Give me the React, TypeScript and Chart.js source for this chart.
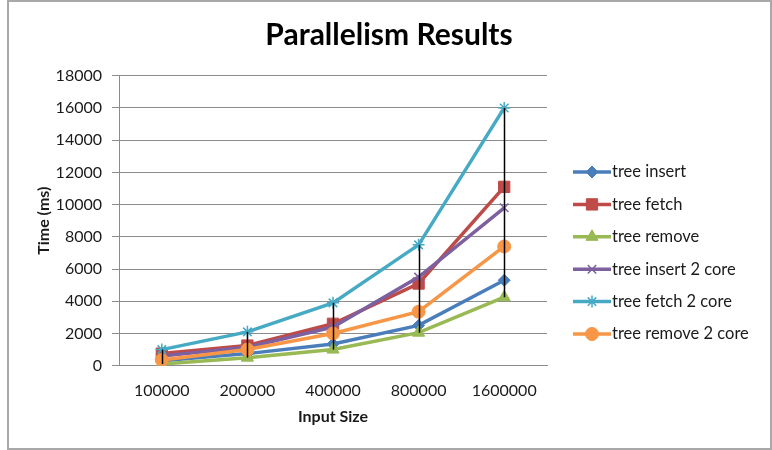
import React, { useEffect, useRef } from "react";
import { Chart, registerables } from "chart.js";
import { drawPoint } from "chart.js/helpers";

Chart.register(...registerables);

const chartTitle = "Parallelism Results";
const categories = ["100000", "200000", "400000", "800000", "1600000"];
const treeInsert = [300, 750, 1350, 2500, 5300];
const treeFetch = [750, 1250, 2600, 5100, 11100];
const treeRemove = [100, 500, 1000, 2050, 4250];
const treeInsert2 = [600, 1150, 2400, 5500, 9800];
const treeFetch2 = [1000, 2100, 3900, 7500, 16000];
const treeRemove2 = [350, 1000, 2000, 3350, 7400];

const seriesNames = [
  "tree insert",
  "tree fetch",
  "tree remove",
  "tree insert 2 core",
  "tree fetch 2 core",
  "tree remove 2 core",
];
const seriesValues = [treeInsert, treeFetch, treeRemove, treeInsert2, treeFetch2, treeRemove2];
const seriesColors = ["#4A7EBB", "#BE4B48", "#98B954", "#7D60A0", "#46AAC5", "#F79646"];
const seriesMarkers = ["rectRot", "rect", "triangle", "crossRot", "star", "circle"];
const markerRadius = [6, 8, 7, 6, 6, 6.5];

const FONT = "Lato, 'Open Sans', sans-serif";

const highLowPlugin = {
  id: "highLow",
  afterDatasetsDraw(chart: any) {
    const { ctx } = chart;
    const x = chart.scales.x;
    const y = chart.scales.y;
    ctx.save();
    ctx.strokeStyle = "#000";
    ctx.lineWidth = 1.5;
    categories.forEach((_, i) => {
      const vals = chart.data.datasets.map((d: any) => d.data[i]);
      const hi = Math.max(...vals);
      const lo = Math.min(...vals);
      const px = Math.round(x.getPixelForValue(i)) + 0.5;
      ctx.beginPath();
      ctx.moveTo(px, y.getPixelForValue(hi));
      ctx.lineTo(px, y.getPixelForValue(lo));
      ctx.stroke();
    });
    ctx.restore();
  },
};

const titleAndLegendPlugin = {
  id: "titleAndLegend",
  afterDraw(chart: any) {
    const { ctx } = chart;
    ctx.save();
    ctx.fillStyle = "#000";
    ctx.font = `bold 30px ${FONT}`;
    ctx.textAlign = "center";
    ctx.textBaseline = "middle";
    ctx.fillText(chartTitle, 382, 35);

    const x0 = chart.chartArea.right + 26;
    const x1 = x0 + 38;
    const startY = 172;
    const step = 32.4;
    chart.data.datasets.forEach((ds: any, i: number) => {
      const yy = startY + i * step;
      ctx.strokeStyle = ds.borderColor;
      ctx.lineWidth = 3.5;
      ctx.beginPath();
      ctx.moveTo(x0, yy);
      ctx.lineTo(x1, yy);
      ctx.stroke();
      ctx.fillStyle = ds.pointBackgroundColor;
      ctx.strokeStyle = ds.pointBorderColor;
      ctx.lineWidth = ds.pointBorderWidth;
      drawPoint(ctx, { pointStyle: ds.pointStyle, rotation: 0, radius: ds.pointRadius, borderWidth: ds.pointBorderWidth }, (x0 + x1) / 2, yy);
      ctx.fillStyle = "#1a1a1a";
      ctx.font = `16.5px ${FONT}`;
      ctx.textBaseline = "middle";
      ctx.textAlign = "left";
      ctx.fillText(ds.label, x1 + 1, yy);
    });
    ctx.restore();
  },
};

export default function App() {
  const ref = useRef<HTMLCanvasElement>(null);
  useEffect(() => {
    if (!ref.current) return;
    const chart = new Chart(ref.current, {
      type: "line",
      data: {
        labels: categories,
        datasets: seriesNames.map((name, i) => ({
          label: name,
          data: seriesValues[i],
          borderColor: seriesColors[i],
          backgroundColor: seriesColors[i],
          pointBackgroundColor: seriesColors[i],
          pointBorderColor: seriesColors[i],
          pointBorderWidth: i === 3 || i === 4 ? 1.5 : 1,
          pointStyle: seriesMarkers[i] as any,
          pointRadius: markerRadius[i],
          borderWidth: 3.5,
          tension: 0,
          order: seriesNames.length - i,
        })),
      },
      plugins: [highLowPlugin, titleAndLegendPlugin],
      options: {
        animation: false,
        responsive: false,
        layout: { padding: { left: 23, right: 225, top: 75.7, bottom: 20 } },
        plugins: {
          legend: { display: false },
          tooltip: { enabled: false },
          title: { display: false },
        },
        scales: {
          x: {
            offset: true,
            grid: { display: false, drawTicks: false, offset: true },
            border: { display: true, color: "#8c8c8c" },
            ticks: { color: "#1a1a1a", font: { family: FONT, size: 16 }, padding: 16, maxRotation: 0 },
            title: { display: true, text: "Input Size", color: "#1a1a1a", font: { family: FONT, size: 16, weight: "bold" } },
            afterFit: (s: any) => { s.height = 64.3; },
          },
          y: {
            min: 0,
            max: 18000,
            ticks: {
              stepSize: 2000,
              color: "#1a1a1a",
              font: { family: FONT, size: 16 },
              padding: 10,
              callback: (v: any) => String(v),
            },
            grid: { color: "#8c8c8c", lineWidth: 1, tickLength: 7 },
            border: { display: true, color: "#8c8c8c" },
            title: { display: true, text: "Time (ms)", color: "#1a1a1a", font: { family: FONT, size: 16, weight: "bold" } },
            afterFit: (s: any) => { s.width = 89; },
          },
        },
      },
    });
    return () => chart.destroy();
  }, []);
  return (
    <div style={{ position: "absolute", left: 7, top: 0, width: 765, height: 450 }}>
      <canvas ref={ref} width={765} height={450} style={{ display: "block" }} />
      <div
        style={{
          position: "absolute",
          left: 0,
          top: 0,
          width: 765,
          height: 450,
          boxSizing: "border-box",
          border: "2px solid #a8a8a8",
          pointerEvents: "none",
        }}
      />
    </div>
  );
}
